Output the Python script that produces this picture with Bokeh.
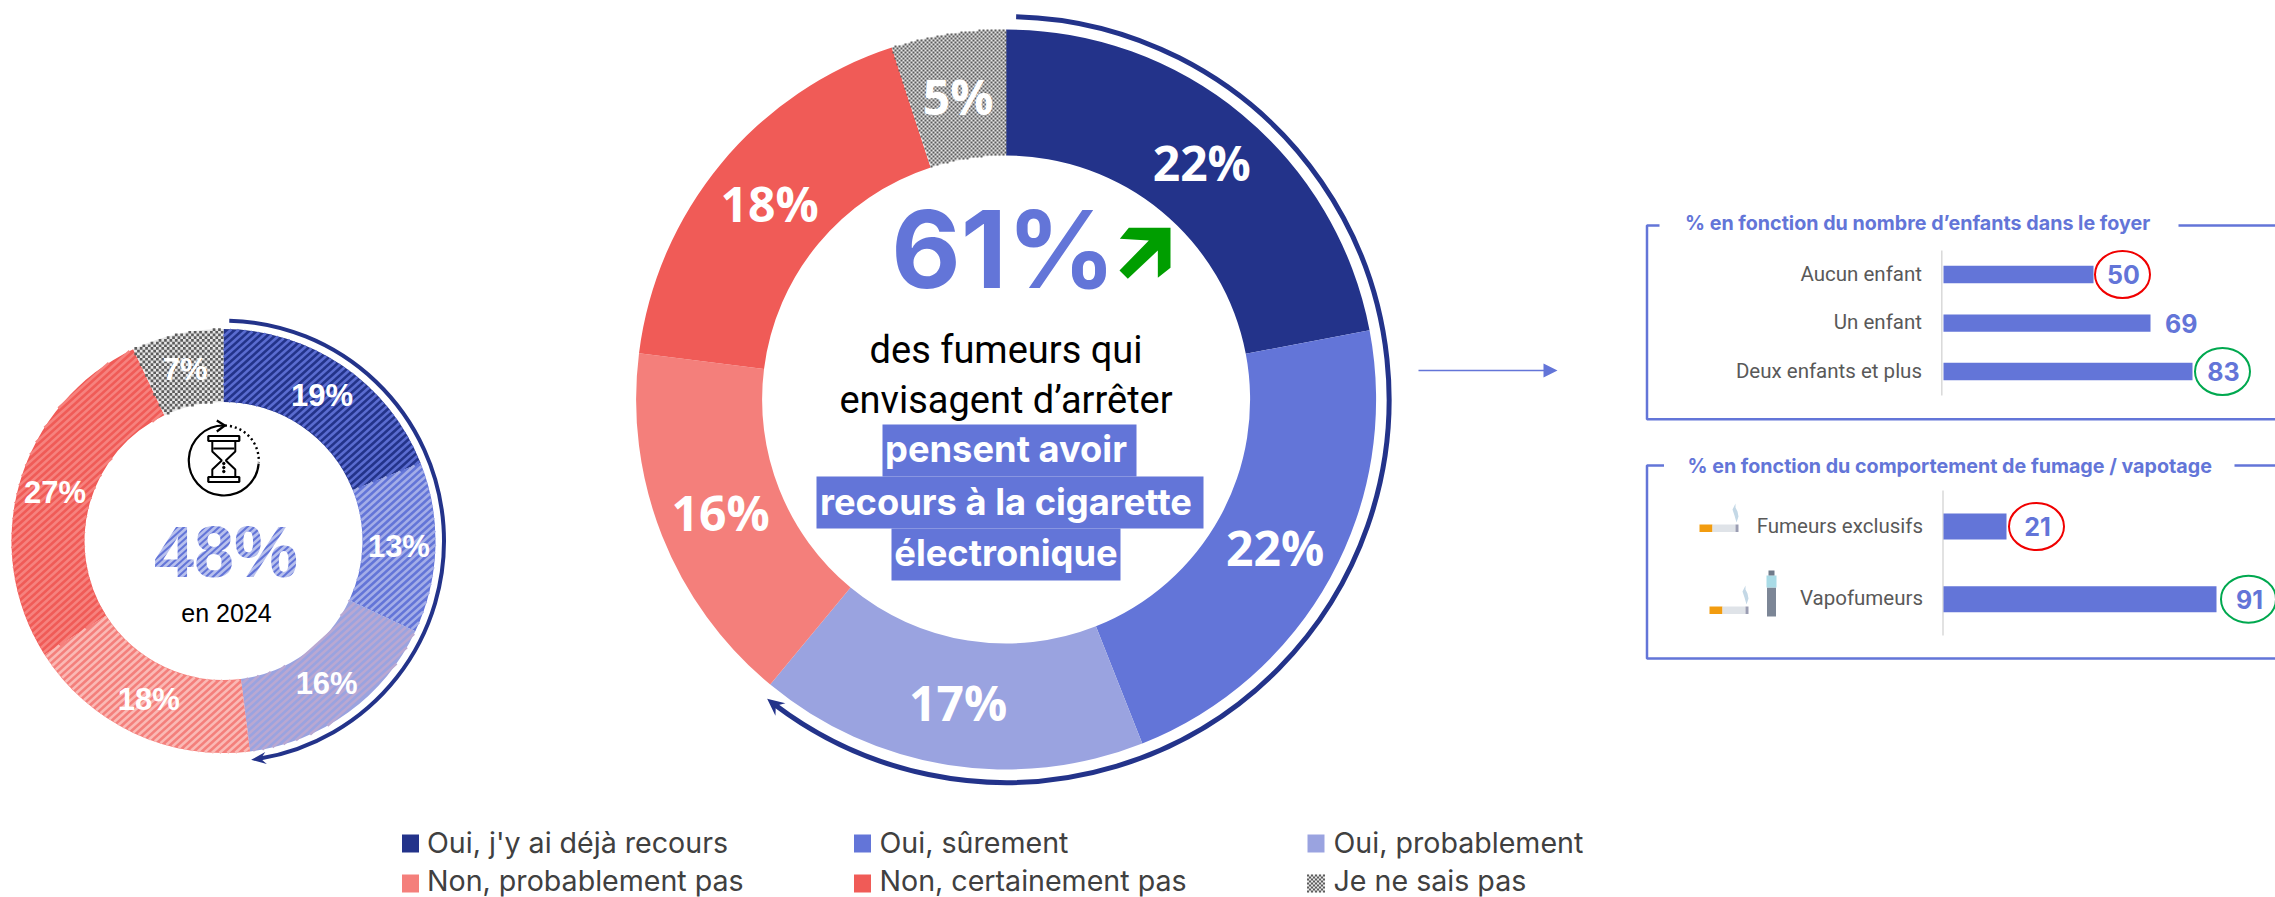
import math
from bokeh.plotting import figure
from bokeh.models import Range1d, ColumnDataSource
from bokeh.core.properties import value
from bokeh.embed import file_html
from bokeh.resources import INLINE

# ---------- data ----------
answers = ["Oui, j'y ai déjà recours", "Oui, sûrement", "Oui, probablement",
           "Non, probablement pas", "Non, certainement pas", "Je ne sais pas"]
values_2025 = [22, 22, 17, 16, 18, 5]
values_2024 = [19, 13, 16, 18, 27, 7]
headline_2025 = "61%"
headline_2024 = "48%"
yes_count = 3   # the three "Oui" answers carry the outer arrow

children_cats = ["Aucun enfant", "Un enfant", "Deux enfants et plus"]
children_vals = [50, 69, 83]
children_marks = ["red", None, "green"]
behav_cats = ["Fumeurs exclusifs", "Vapofumeurs"]
behav_vals = [21, 91]
behav_marks = ["red", "green"]
title_children = "% en fonction du nombre d’enfants dans le foyer"
title_behav = "% en fonction du comportement de fumage / vapotage"

# ---------- style ----------
NAVY, BLUE, LILAC, SALMON, CORAL = "#23338a", "#6375d8", "#9aa3e0", "#f47f7b", "#f05b57"
LIGHT, DARK = "#e6e6e6", "#5c5c5c"
colors = [NAVY, BLUE, LILAC, SALMON, CORAL, LIGHT]
stripes_2024 = ["#5a6cd0", "#a3ade8", "#b9a8d2", "#fab9b5", "#f6827e", None]
RED_C, GREEN_C = "#f00000", "#00a84f"
UI = "Roboto"
BOLD = "Inter"
LABEL = "Open Sans"
ARIAL = "Liberation Sans"

W, H = 2275, 897
OX, OY = 0, 0
p = figure(width=W, height=H, output_backend="svg", toolbar_location=None,
           x_range=Range1d(OX, OX + W), y_range=Range1d(897 - OY - H, 897 - OY),
           x_axis_type=None, y_axis_type=None, min_border=0,
           outline_line_color=None, background_fill_color="white", border_fill_color="white")
p.grid.visible = False
PX_PER_UNIT = 3.0
BAR0 = 1943.0
p.extra_x_ranges = {"bars": Range1d((OX - BAR0) / PX_PER_UNIT, (OX + W - BAR0) / PX_PER_UNIT)}


def Y(v):
    return 897 - v


def T(x, y, s, size, color, font=UI, style="normal", align="center"):
    p.text(x=[x], y=[Y(y)], text=[s], text_font=value(font), text_font_size=value(f"{size}px"),
           text_font_style=style, text_color=color, text_align=align, text_baseline="middle")


def in_sector(x, y, cx, cy, R, r, f0, f1):
    dx, dy = x - cx, y - cy
    rad = math.hypot(dx, dy)
    if rad > R or rad < r:
        return False
    th = (math.degrees(math.atan2(dx, dy)) % 360) / 3.6
    return f0 <= th <= f1


def stripes(cx, cy, R, r, f0, f1, color, period=5.2, weight=2.6):
    yc = Y(cy)
    d = (math.cos(math.radians(42)), math.sin(math.radians(42)))
    n = (-d[1], d[0])
    xs, ys = [], []
    c = -R
    while c <= R:
        run = []
        t = -R
        while t <= R:
            px = cx + c * n[0] + t * d[0]
            py = yc + c * n[1] + t * d[1]
            if in_sector(px, py, cx, yc, R, r, f0, f1):
                run.append((px, py))
            elif run:
                xs.append([run[0][0], run[-1][0]])
                ys.append([run[0][1], run[-1][1]])
                run = []
            t += 0.6
        if run:
            xs.append([run[0][0], run[-1][0]])
            ys.append([run[0][1], run[-1][1]])
        c += period
    p.multi_line(xs, ys, line_color=color, line_width=weight)


def checker(cx, cy, R, r, f0, f1, cell):
    yc = Y(cy)
    gx, gy = round(cx), round(yc)
    L, Ri, Bo, To = [], [], [], []
    n = int(R / cell) + 1
    for i in range(-n, n):
        for j in range(-n, n):
            if (i + j) % 2 == 0:
                x, y = gx + i * cell, gy + j * cell
                if in_sector(x + cell / 2, y + cell / 2, cx, yc, R, r, f0, f1):
                    L.append(x)
                    Ri.append(x + cell)
                    Bo.append(y)
                    To.append(y + cell)
    p.quad(left=L, right=Ri, bottom=Bo, top=To, fill_color=DARK, line_color=None)


def donut(vals, cx, cy, R, r, stripe_colors=None, cell=2.0):
    a = 0
    s, e, mid = [], [], []
    for v in vals:
        s.append(math.pi / 2 - 2 * math.pi * a / 100)
        e.append(math.pi / 2 - 2 * math.pi * (a + v) / 100)
        mid.append(math.pi / 2 - 2 * math.pi * (a + v / 2) / 100)
        a += v
    n = len(vals)
    src = ColumnDataSource(dict(x=[cx] * n, y=[Y(cy)] * n, s=s, e=e, c=colors[:n]))
    p.annular_wedge(x="x", y="y", inner_radius=r, outer_radius=R, start_angle="s", end_angle="e",
                    direction="clock", fill_color="c", line_color=None, source=src)
    a = 0
    for i, v in enumerate(vals):
        if i == n - 1:
            checker(cx, cy, R, r, a, a + v, cell)
        elif stripe_colors and stripe_colors[i]:
            stripes(cx, cy, R, r, a, a + v, stripe_colors[i])
        a += v
    return mid


def outer_arrow(vals, cx, cy, R, lw, L, w, back_deg=0.0):
    a1 = math.pi / 2 - 2 * math.pi * sum(vals[:yes_count]) / 100 + math.radians(back_deg)
    a0 = math.pi / 2 - math.radians(1.5)
    d = L * 0.6 / R
    p.arc(x=[cx], y=[Y(cy)], radius=R, start_angle=a0, end_angle=a1 + d, direction="clock",
          line_color=NAVY, line_width=lw)
    tx, ty = cx + R * math.cos(a1), Y(cy) + R * math.sin(a1)
    dx, dy = math.sin(a1), -math.cos(a1)
    nx, ny = -dy, dx
    p.patch([tx, tx - L * dx + w * nx, tx - 0.65 * L * dx, tx - L * dx - w * nx],
            [ty, ty - L * dy + w * ny, ty - 0.65 * L * dy, ty - L * dy - w * ny],
            fill_color=NAVY, line_color=None)


# ---------- 2024 donut ----------
cx, cy, R, r = 223, 540.6, 212, 139
mids = donut(values_2024, cx, cy, R, r, stripe_colors=stripes_2024, cell=2.7)
outer_arrow(values_2024, cx, cy, 220.5, 4, 15, 6)
for v, m in zip(values_2024, mids):
    T(cx + (R + r) / 2 * math.cos(m), cy - (R + r) / 2 * math.sin(m), f"{v}%", 31, "white", ARIAL, "bold")
T(225.5, 551, headline_2024, 72, BLUE, ARIAL, "bold")
# white stripes laid over the headline give it the hatched look of the 2024 series
sx, sy = [], []
x0 = 95
while x0 <= 300:
    sx.append([x0, x0 + 60])
    sy.append([Y(578), Y(524)])
    x0 += 7
p.multi_line(sx, sy, line_color="white", line_alpha=0.55, line_width=2.6)
T(226, 612, "en 2024", 25, "black", ARIAL)

# hourglass icon
ic, jc = 223.3, 460
p.arc(x=[ic], y=[Y(jc)], radius=35, start_angle=math.radians(-5), end_angle=math.radians(88),
      direction="clock", line_color="black", line_width=2.2)
p.arc(x=[ic], y=[Y(jc)], radius=35, start_angle=math.radians(88), end_angle=math.radians(-3),
      direction="clock", line_color="black", line_width=2.4, line_dash="2 3")
p.multi_line([[ic - 7, ic + 1, ic - 7]], [[Y(jc - 40), Y(jc - 35), Y(jc - 29)]], line_color="black", line_width=2.2)
for yy in (-22, 19):
    p.quad(left=[ic - 15.5], right=[ic + 15.5], top=[Y(jc + yy - 2.5)], bottom=[Y(jc + yy + 2.5)],
           fill_color="white", line_color="black", line_width=2.2)
p.multi_line([[ic - 11.5, ic - 11.5, ic - 2, ic - 11.5, ic - 11.5], [ic + 11.5, ic + 11.5, ic + 2, ic + 11.5, ic + 11.5],
              [ic - 10.5, ic + 10.5]],
             [[Y(jc - 19), Y(jc - 9), Y(jc), Y(jc + 9), Y(jc + 17)], [Y(jc - 19), Y(jc - 9), Y(jc), Y(jc + 9), Y(jc + 17)],
              [Y(jc - 12), Y(jc - 12)]], line_color="black", line_width=2)
p.scatter([ic, ic, ic], [Y(jc + 3), Y(jc + 7), Y(jc + 11)], size=2.5, color="black")

# ---------- 2025 donut ----------
cx, cy, R, r = 1005.6, 399, 370, 244
mids = donut(values_2025, cx, cy, R, r, cell=2.0)
outer_arrow(values_2025, cx, cy, 383, 5, 17, 8, back_deg=1.0)
for v, m in zip(values_2025, mids):
    T(cx + (R + r) / 2 * math.cos(m), cy - (R + r) / 2 * math.sin(m), f"{v}%", 48, "white", LABEL, "bold")
T(1003, 248, headline_2025, 107, BLUE, BOLD, "bold")
p.patch([1100 + q / 3 for q in (85, 210, 210, 172, 172, 82, 57, 145, 58)],
        [Y(210 + q / 3) for q in (52, 52, 172, 202, 120, 205, 180, 90, 85)],
        fill_color="#009e00", line_color=None)
T(1005.5, 349.5, "des fumeurs qui", 38, "black")
T(1005.5, 399.5, "envisagent d’arrêter", 38, "black")
p.quad(left=[882, 816, 891], right=[1136, 1203, 1120], top=[Y(424), Y(476), Y(528)], bottom=[Y(476), Y(528), Y(580)],
       fill_color=BLUE, line_color=None)
T(1005.5, 448, "pensent avoir", 36.3, "white", BOLD, "bold")
T(1005.5, 501.5, "recours à la cigarette", 36.3, "white", BOLD, "bold")
T(1005.5, 552.5, "électronique", 36.3, "white", BOLD, "bold")

# connector arrow
p.line([1418, 1545], [Y(370), Y(370)], line_color=BLUE, line_width=1.5)
p.patch([1557, 1543, 1543], [Y(370), Y(363), Y(377)], fill_color=BLUE, line_color=None)


# ---------- breakdown panels ----------
def panel(top, bottom, stub_end, restart, title, title_x, title_y, title_size):
    p.multi_line([[stub_end, 1646.5, 1646.5, 2275], [restart, 2275]],
                 [[Y(top), Y(top), Y(bottom), Y(bottom)], [Y(top), Y(top)]], line_color=BLUE, line_width=2.5)
    T(title_x, title_y, title, title_size, BLUE, BOLD, "bold", "left")


def bars(cats, vals, marks, ys, h, ax_x, ax0, ax1, label_x, centers):
    p.line([ax_x, ax_x], [Y(ax0), Y(ax1)], line_color="#d9d9d9", line_width=1.5)
    p.hbar(y=[Y(q) for q in ys], left=[0] * len(vals), right=vals, height=h, fill_color=BLUE, line_color=None,
           x_range_name="bars")
    for c, v, m, yy, xc in zip(cats, vals, marks, ys, centers):
        T(label_x, yy - 1, c, 20.5, "#595959", UI, "normal", "right")
        T(xc, yy, str(v), 25, BLUE, BOLD, "bold")
        if m:
            p.ellipse(x=[xc - 1], y=[Y(yy)], width=55, height=47, fill_color=None,
                      line_color=RED_C if m == "red" else GREEN_C, line_width=2)


panel(225, 418.7, 1659, 2178, title_children, 1684.5, 222.7, 19.7)
bars(children_cats, children_vals, children_marks, [274, 322.7, 371], 17.3, 1941.3, 250, 395, 1921.5, [2123, 2180.7, 2223])
panel(465, 658, 1663.5, 2234, title_behav, 1687, 465, 19.7)
bars(behav_cats, behav_vals, behav_marks, [526, 598.7], 26, 1942.5, 490, 635, 1922.5, [2037, 2249])


def cigarette(x0, y0):
    p.quad(left=[x0, x0 + 13, x0 + 36], right=[x0 + 13, x0 + 36, x0 + 39], top=[Y(y0)] * 3, bottom=[Y(y0 + 7.5)] * 3,
           fill_color=["#f29c0f", "#dfe3e8", "#9a9db2"], line_color=None)
    p.patch([x0 + q for q in (36, 33, 35, 37, 39, 38, 36)],
            [Y(y0 + q) for q in (-21, -15, -9, -2, -8, -13, -17)],
            fill_color="#c4d8e6", line_color=None)


cigarette(1699, 524)
cigarette(1709, 606)
p.quad(left=[1766.5, 1766, 1768], right=[1775.5, 1776, 1774], top=[Y(587), Y(575), Y(570)],
       bottom=[Y(616), Y(587), Y(575)],
       fill_color=["#7c8696", "#a9dbe6", "#6f7a8a"], line_color=None)

# ---------- legend ----------
xs_sq = [401.5, 853.5, 1307]
xs_txt = [426.5, 879, 1333]
ys_sq = [843, 883]
ys_txt = [842, 879.5]
for k in range(6):
    col, row = k % 3, k // 3
    p.quad(left=[xs_sq[col]], right=[xs_sq[col] + 17], top=[Y(ys_sq[row] - 9)], bottom=[Y(ys_sq[row] + 9)],
           fill_color=colors[k], line_color=None)
    if k == 5:
        cell = 2.0
        sq = [(i, j) for i in range(9) for j in range(9) if (i + j) % 2 == 0]
        p.quad(left=[xs_sq[col] + i * cell - 0.5 for i, j in sq], right=[xs_sq[col] + (i + 1) * cell - 0.5 for i, j in sq],
               top=[Y(ys_sq[row] - 9 + j * cell) for i, j in sq], bottom=[Y(ys_sq[row] - 9 + (j + 1) * cell) for i, j in sq],
               fill_color=DARK, line_color=None)
    T(xs_txt[col], ys_txt[row], answers[k], 28.6, "#404040", BOLD, "normal", "left")

open("out.html", "w").write(file_html(p, INLINE))
